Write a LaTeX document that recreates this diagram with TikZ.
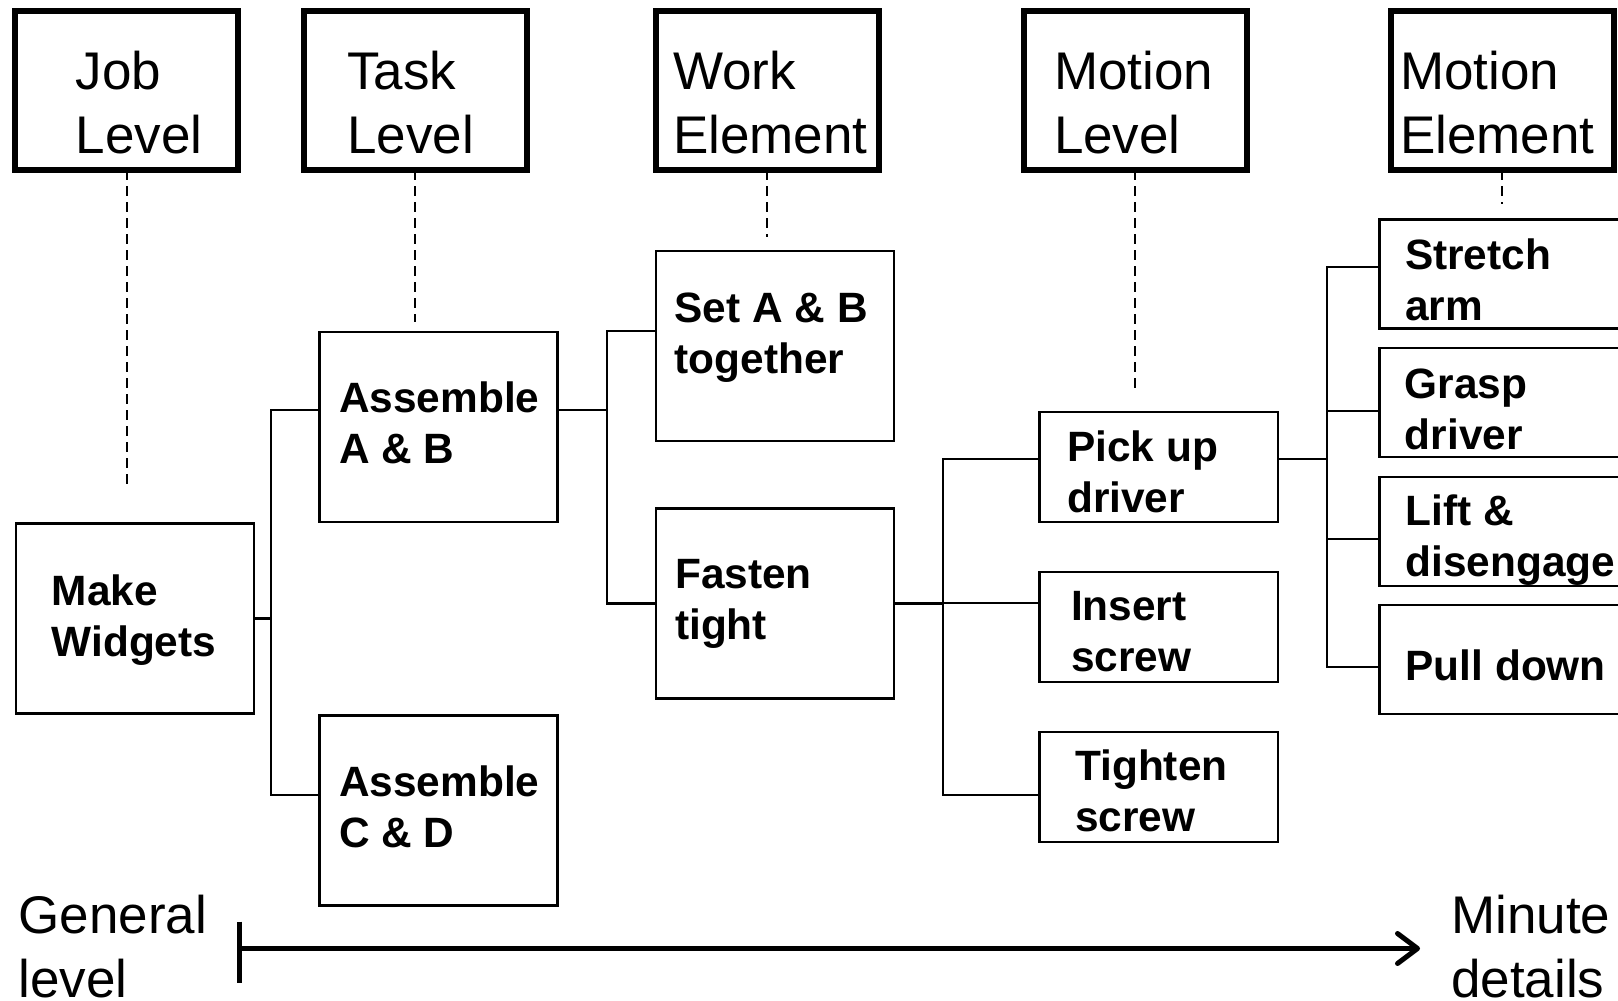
\documentclass[tikz,border=0pt]{standalone}
\usepackage{fontspec}
\setmainfont{Liberation Sans}
\usetikzlibrary{arrows.meta,calc}
% left-aligned stack of lines whose baseline is the first line's baseline
\newcommand\mylines[1]{\vtop{\halign{##\hfil\cr#1\crcr}}}
\begin{document}
\begin{tikzpicture}[x=1pt,y=-1pt,
  levelbox/.style={draw,line width=6pt,inner sep=0pt,outer sep=0pt,minimum width=223pt,minimum height=159pt},
  itembox/.style={draw,line width=2.3pt,inner sep=0pt,outer sep=0pt,anchor=north west},
  headtext/.style={inner sep=0pt,anchor=base west,font=\fontsize{53}{64}\selectfont},
  itemtext/.style={inner sep=0pt,anchor=base west,font=\bfseries\fontsize{42.4}{51}\selectfont},
  link/.style={line width=2.3pt},
  guide/.style={line width=2.3pt,dash pattern=on 10pt off 6pt},
  axis/.style={line width=5pt}
]
\fill[white] (0,0) rectangle (1618,1001);
\useasboundingbox (0,0) rectangle (1618,1001);
\clip (0,0) rectangle (1618,1001);

% level headings
\node[levelbox] (hjob)  at (126.8,90.8) {};
\node[levelbox] (htask) at (415,90.8) {};
\node[levelbox] (hwork) at (767,90.8) {};
\node[levelbox] (hmot)  at (1135,90.8) {};
\node[levelbox] (hel)   at (1502,90.8) {};
\node[headtext] (tjob)  at (75.6,89.3)  {\mylines{Job\cr Level}};
\node[headtext] (ttask) at (347,89.3)   {\mylines{Task\cr Level}};
\node[headtext] (twork) at (673,89.3)   {\mylines{Work\cr Element}};
\node[headtext] (tmot)  at (1053.8,89.3){\mylines{Motion\cr Level}};
\node[headtext] (tel)   at (1399.8,89.3){\mylines{Motion\cr Element}};

% activity boxes
\node[itembox,minimum width=238pt,minimum height=190pt] (mw)  at (15.8,523.5) {};
\node[itembox,minimum width=238pt,minimum height=190pt] (aab) at (319.5,332.2) {};
\node[itembox,minimum width=238pt,minimum height=190pt] (acd) at (319.5,715.5) {};
\node[itembox,minimum width=238pt,minimum height=190pt] (sab) at (656.2,251.2) {};
\node[itembox,minimum width=238pt,minimum height=190pt] (ft)  at (656.2,508.5) {};
\node[itembox,minimum width=238.6pt,minimum height=110pt] (pud) at (1039.5,412.2) {};
\node[itembox,minimum width=238.6pt,minimum height=110pt] (ins) at (1039.5,572.2) {};
\node[itembox,minimum width=238.6pt,minimum height=110pt] (tig) at (1039.5,731.9) {};
\node[itembox,minimum width=300pt,minimum height=109pt] (me1) at (1379.5,219.5) {};
\node[itembox,minimum width=300pt,minimum height=109pt] (me2) at (1379.5,348) {};
\node[itembox,minimum width=300pt,minimum height=109pt] (me3) at (1379.5,476.9) {};
\node[itembox,minimum width=300pt,minimum height=109pt] (me4) at (1379.5,605) {};

\node[itemtext] (xmw)  at (51.5,605)    {\mylines{Make\cr Widgets}};
\node[itemtext] (xaab) at (339,412.3)   {\mylines{Assemble\cr A \& B}};
\node[itemtext] (xacd) at (339,796.7)   {\mylines{Assemble\cr C \& D}};
\node[itemtext] (xsab) at (674.3,322.7) {\mylines{Set A \& B\cr together}};
\node[itemtext] (xft)  at (674.9,588.3) {\mylines{Fasten\cr tight}};
\node[itemtext] (xpud) at (1067,461)    {\mylines{Pick up\cr driver}};
\node[itemtext] (xins) at (1070.9,620.7){\mylines{Insert\cr screw}};
\node[itemtext] (xtig) at (1075,780)    {\mylines{Tighten\cr screw}};
\node[itemtext] (xme1) at (1404.8,269)  {\mylines{Stretch\cr arm}};
\node[itemtext] (xme2) at (1404.6,398)  {\mylines{Grasp\cr driver}};
\node[itemtext] (xme3) at (1405.5,525)  {\mylines{Lift \&\cr disengage}};
\node[itemtext] (xme4) at (1405.4,680)  {Pull down};

% dashed guides from each heading
\coordinate (gjob)  at (126.8,488);
\coordinate (gtask) at (415,322);
\coordinate (gwork) at (767,237);
\coordinate (gmot)  at (1135,390);
\coordinate (gel)   at (1502,204);
\draw[guide] (hjob.south)  -- (gjob);
\draw[guide] (htask.south) -- (gtask);
\draw[guide] (hwork.south) -- (gwork);
\draw[guide] (hmot.south)  -- (gmot);
\draw[guide] (hel.south)   -- (gel);

% tree connectors
\draw[link] (mw.east) -- ++(17,0) coordinate (j1) |- ([yshift=16.9pt]aab.west);
\draw[link] (j1) |- ([yshift=15.5pt]acd.west);
\draw[link] ([yshift=16.9pt]aab.east) -- ++(49.2,0) coordinate (j2) |- ([yshift=15.5pt]sab.west);
\draw[link] (j2) |- (ft.west);
\draw[link] (ft.east) -- ++(48.5,0) coordinate (j3) |- ([yshift=8.2pt]pud.west);
\draw[link] (j3) |- ([yshift=24.5pt]ins.west);
\draw[link] (j3) |- ([yshift=-8.1pt]tig.west);
\draw[link] ([yshift=8.2pt]pud.east) -- ++(48.6,0) coordinate (j4) |- ([yshift=7.3pt]me1.west);
\draw[link] (j4) |- ([yshift=-8.2pt]me2.west);
\draw[link] (j4) |- ([yshift=-7.3pt]me3.west);
\draw[link] (j4) |- ([yshift=-7.2pt]me4.west);

% scale from general to detailed
\node[headtext] (gen)  at (18.2,933.3) {\mylines{General\cr level}};
\node[headtext] (minu) at (1451,933.3) {\mylines{Minute\cr details}};
\coordinate (barT) at (239.4,921.5);
\coordinate (barB) at (239.4,983.4);
\coordinate (ax0)  at (239.4,948.5);
\coordinate (ax1)  at (1420,948.5);
\draw[axis] (barT) -- (barB);
\draw[axis,-{Straight Barb[length=20pt,width=30pt,line cap=round,line join=round]}] (ax0) -- (ax1);
\end{tikzpicture}
\end{document}
